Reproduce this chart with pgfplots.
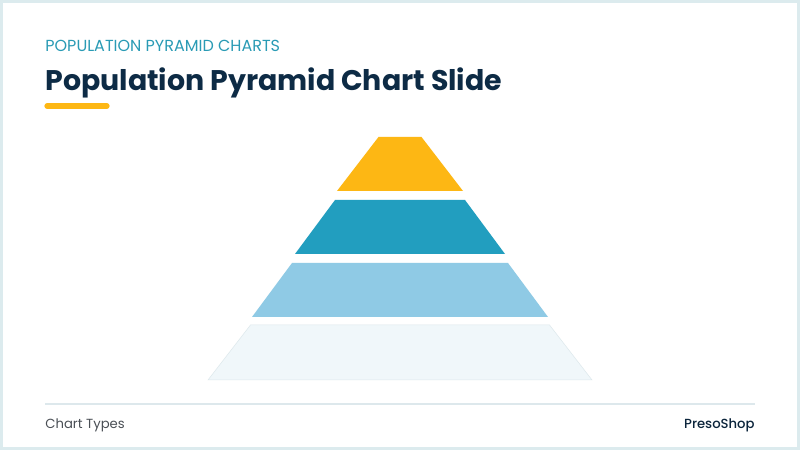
\documentclass[border=0pt]{standalone}
\usepackage{pgfplots}
\pgfplotsset{compat=1.18}
\usepackage{fontspec}
\setmainfont{Poppins}
\newfontfamily\popmed{Poppins}[UprightFont=* Medium]
\definecolor{frame}{HTML}{DCEBEE}
\definecolor{navy}{HTML}{0D2B45}
\definecolor{sub}{HTML}{2A9BB5}
\definecolor{gold}{HTML}{FDB714}
\definecolor{teal}{HTML}{229EBF}
\definecolor{lblue}{HTML}{8FCAE5}
\definecolor{pale}{HTML}{F0F7FA}
\definecolor{paleline}{HTML}{DDE8EC}
\definecolor{foot}{HTML}{4A4F55}
\begin{document}
\begin{tikzpicture}
\begin{axis}[x=0.5bp, y=0.5bp, xmin=0, xmax=800, ymin=0, ymax=450,
  hide axis, clip=false, axis line style={draw=none}]
% slide background and frame
\addplot[fill=frame, draw=none] coordinates {(0,0) (800,0) (800,450) (0,450)} --cycle;
\addplot[fill=white, draw=none] coordinates {(3,3) (797,3) (797,447) (3,447)} --cycle;
% pyramid layers (top to bottom)
\addplot[fill=gold, draw=none] coordinates {(378.5,313) (421.5,313) (463,259) (337,259)} --cycle;
\addplot[fill=teal, draw=none] coordinates {(335,250) (465,250) (505,196) (295,196)} --cycle;
\addplot[fill=lblue, draw=none] coordinates {(292,187) (508,187) (548,133) (252,133)} --cycle;
\addplot[fill=pale, draw=paleline, line width=0.25bp] coordinates {(250.5,125) (549.5,125) (592,70) (208,70)} --cycle;
% underline and footer rule
\addplot[draw=gold, line width=2.6bp, line cap=round] coordinates {(47,344) (107,344)};
\addplot[draw=paleline, line width=0.8bp] coordinates {(45,46) (755,46)};
% texts
\node[anchor=base west, text=sub, font=\fontsize{8.0bp}{10bp}\selectfont, inner sep=0pt] at (axis cs:45,398) {POPULATION PYRAMID CHARTS};
\node[anchor=base west, text=navy, font=\fontsize{14.2bp}{17bp}\selectfont\bfseries, inner sep=0pt] at (axis cs:45,359) {Population Pyramid Chart Slide};
\node[anchor=base west, text=foot, font=\fontsize{6.6bp}{8bp}\selectfont, inner sep=0pt] at (axis cs:45,21.5) {Chart Types};
\node[anchor=base east, text=navy!85!black, font=\fontsize{6.6bp}{8bp}\selectfont\popmed, inner sep=0pt] at (axis cs:755,21.5) {PresoShop};
\end{axis}
\end{tikzpicture}
\end{document}
